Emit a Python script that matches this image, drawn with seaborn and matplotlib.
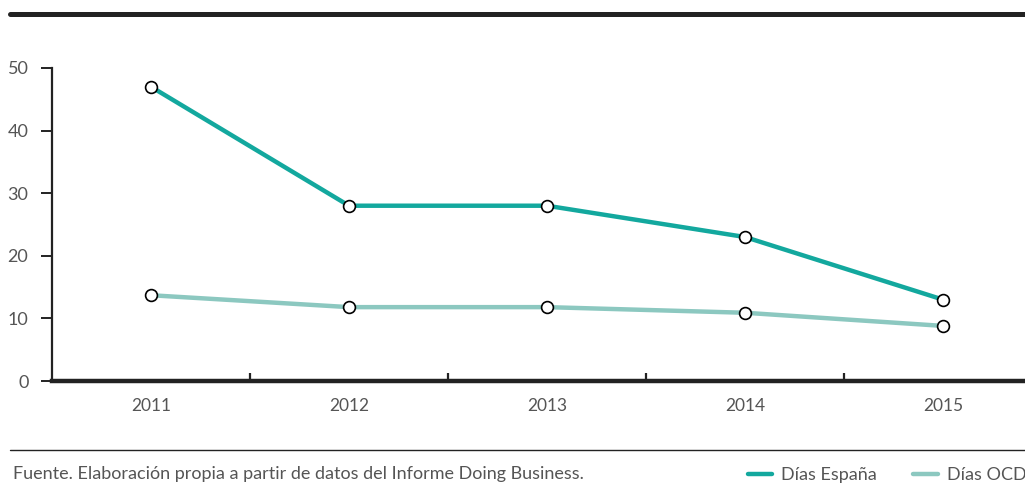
import matplotlib
matplotlib.use("Agg")
import matplotlib.pyplot as plt
from matplotlib.lines import Line2D
import pandas as pd
import seaborn as sns

# --- data ---
years = ["2011", "2012", "2013", "2014", "2015"]
dias_espana = [47, 28, 28, 23, 13]
dias_ocde = [13.7, 11.8, 11.8, 10.9, 8.8]

C_ESP = "#13a89e"
C_OCDE = "#8cc8c0"
TXT = "#555555"

df = pd.DataFrame({
    "year": years * 2,
    "dias": dias_espana + dias_ocde,
    "serie": ["Días España"] * len(years) + ["Días OCDE"] * len(years),
})

sns.set_style("white")
plt.rcParams["font.family"] = ["Lato", "DejaVu Sans"]

fig = plt.figure(figsize=(10.25, 4.86), dpi=100)
ax = fig.add_axes([52 / 1025, 1 - 381 / 486, 990 / 1025, (381 - 68) / 486])

sns.lineplot(data=df, x="year", y="dias", hue="serie",
             palette={"Días España": C_ESP, "Días OCDE": C_OCDE},
             linewidth=3.2, marker="o", markersize=8.5,
             markerfacecolor="white", markeredgecolor="black",
             markeredgewidth=1.2, legend=False, ax=ax)

ax.set_xlim(-0.5, 4.5)
ax.set_ylim(0, 50)
ax.set_yticks([0, 10, 20, 30, 40, 50])
ax.set_xlabel("")
ax.set_ylabel("")

for s in ["top", "right"]:
    ax.spines[s].set_visible(False)
ax.spines["left"].set_linewidth(1.6)
ax.spines["left"].set_color("#222222")
ax.spines["bottom"].set_linewidth(3.2)
ax.spines["bottom"].set_color("#222222")

ax.tick_params(axis="y", direction="out", length=8, width=1.4, color="#222222",
               labelsize=13, labelcolor=TXT, pad=9, left=True)
ax.tick_params(axis="x", which="major", length=0, labelsize=12.5, labelcolor=TXT, pad=12)
ax.set_xticks([0.5, 1.5, 2.5, 3.5], minor=True)
ax.tick_params(axis="x", which="minor", direction="in", length=6, width=1.6,
               color="#222222", bottom=True)

# frame lines
fig.add_artist(Line2D([10 / 1025, 1], [1 - 14 / 486] * 2, color="#222222", lw=3.6))
fig.add_artist(Line2D([10 / 1025, 1], [1 - 450 / 486] * 2, color="#222222", lw=1.0))

fig.text(13 / 1025, 1 - 474 / 486, "Fuente. Elaboración propia a partir de datos del Informe Doing Business.",
         fontsize=13, color=TXT, va="center", ha="left")

handles = [Line2D([], [], color=C_ESP, lw=3.2), Line2D([], [], color=C_OCDE, lw=3.2)]
fig.legend(handles, ["Días España", "Días OCDE"], ncol=2, frameon=False,
           loc="center left", bbox_to_anchor=(748 / 1025, 1 - 475 / 486),
           fontsize=13, labelcolor=TXT, handlelength=1.35, handletextpad=0.5,
           columnspacing=2.0, borderaxespad=0, borderpad=0)

fig.savefig("out.png", dpi=100)
